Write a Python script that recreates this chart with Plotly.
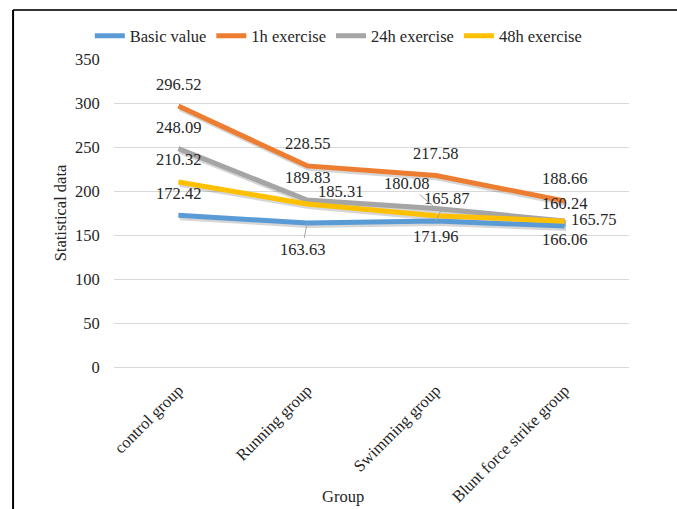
import plotly.graph_objects as go

categories = ["control group", "Running group", "Swimming group", "Blunt force strike group"]
series_names = ["Basic value", "1h exercise", "24h exercise", "48h exercise"]
basic_value = [172.42, 163.63, 165.87, 160.24]
h1_exercise = [296.52, 228.55, 217.58, 188.66]
h24_exercise = [248.09, 189.83, 180.08, 166.06]
h48_exercise = [210.32, 185.31, 171.96, 165.75]
y_ticks = [0, 50, 100, 150, 200, 250, 300, 350]

colors = ["#5B9BD5", "#ED7D31", "#A5A5A5", "#FFC000"]
all_values = [basic_value, h1_exercise, h24_exercise, h48_exercise]

# label placement styles (pixel offsets): ("shift", dx, dy) or ("arrow", ax, ay)
label_styles = [
    [("shift", 0, 22), ("arrow", -5, 26), ("arrow", 11, -23), ("shift", 0, 22)],
    [("shift", 0, 22), ("shift", 0, 22), ("shift", 0, 22), ("shift", 0, 22)],
    [("shift", 0, 21), ("shift", 0, 22), ("arrow", -29, -25), ("shift", 0, -19)],
    [("shift", 0, 22), ("shift", 33, 12), ("shift", 0, -21), ("shift", 29, 2)],
]

FONT = "Times New Roman, Liberation Serif, DejaVu Serif, serif"
FS = 16.5
TXT = "#262626"

Y_RANGE = [0, 350]
X_RANGE = [-0.5, 3.5]
# shadow axes: same scale shifted by a couple of pixels (plot height 308px, width 515px)
SH_DY = 2.0 * 350 / 308
SH_DX = 1.5 * 4 / 515

fig = go.Figure()
# invisible trace to anchor the main (visible) axes
fig.add_trace(go.Scatter(x=categories, y=basic_value, mode="lines", showlegend=False,
                         hoverinfo="skip", line=dict(color="rgba(0,0,0,0)", width=0)))
# soft drop shadows drawn on offset overlay axes
for name, vals in zip(series_names, all_values):
    fig.add_trace(go.Scatter(
        x=categories, y=vals, mode="lines", showlegend=False, hoverinfo="skip",
        line=dict(color="rgba(0,0,0,0.16)", width=6), xaxis="x2", yaxis="y2",
    ))
for name, vals, col in zip(series_names, all_values, colors):
    fig.add_trace(go.Scatter(
        x=categories, y=vals, name=name, mode="lines",
        line=dict(color=col, width=5), hoverinfo="x+y+name", xaxis="x3", yaxis="y3",
    ))

annotations = []
for vals, styles in zip(all_values, label_styles):
    for cat, v, st in zip(categories, vals, styles):
        if st[0] == "shift":
            annotations.append(dict(
                x=cat, y=v, xref="x", yref="y", text=f"{v:.2f}", showarrow=False,
                xshift=st[1], yshift=st[2], font=dict(family=FONT, size=FS, color=TXT)))
        else:
            annotations.append(dict(
                x=cat, y=v, xref="x", yref="y", text=f"{v:.2f}", showarrow=True,
                arrowhead=0, arrowwidth=1, arrowcolor="#A6A6A6", ax=st[1], ay=st[2],
                font=dict(family=FONT, size=FS, color=TXT)))

# x axis title placed like the reference
annotations.append(dict(x=0.4447, y=-0.422, xref="paper", yref="paper", text="Group",
                        showarrow=False, font=dict(family=FONT, size=FS, color=TXT),
                        xanchor="center", yanchor="middle"))

shapes = [
    dict(type="line", xref="paper", yref="paper", x0=-0.196, x1=1.1, y0=1.159, y1=1.159,
         line=dict(color="#333333", width=2)),
    dict(type="line", xref="paper", yref="paper", x0=-0.196, x1=-0.196, y0=1.159, y1=-0.47,
         line=dict(color="#000000", width=2)),
]

hidden_cat = dict(type="category", overlaying="x", visible=False,
                  categoryorder="array", categoryarray=categories)

fig.update_layout(
    width=677, height=509,
    margin=dict(l=114, r=48, t=59, b=142),
    paper_bgcolor="white", plot_bgcolor="white",
    font=dict(family=FONT, size=FS, color=TXT),
    showlegend=True,
    legend=dict(orientation="h", x=-0.047, xanchor="left", y=1.0747, yanchor="middle",
                font=dict(family=FONT, size=FS, color=TXT), bgcolor="rgba(0,0,0,0)"),
    xaxis=dict(type="category", range=X_RANGE, tickangle=-45, showgrid=False,
               showline=False, ticks="outside", ticklen=6, tickcolor="rgba(0,0,0,0)",
               automargin=False, categoryorder="array", categoryarray=categories,
               tickfont=dict(family=FONT, size=FS, color=TXT)),
    yaxis=dict(range=Y_RANGE, tickvals=y_ticks, showgrid=True, gridcolor="#D9D9D9",
               gridwidth=1, zeroline=True, zerolinecolor="#D9D9D9", zerolinewidth=1,
               showline=False, ticks="outside", ticklen=10, tickcolor="rgba(0,0,0,0)",
               automargin=False,
               tickfont=dict(family=FONT, size=FS, color=TXT),
               title=dict(text="Statistical data", standoff=4,
                          font=dict(family=FONT, size=FS, color=TXT))),
    xaxis2=dict(hidden_cat, range=[X_RANGE[0] - SH_DX, X_RANGE[1] - SH_DX]),
    yaxis2=dict(overlaying="y", range=[Y_RANGE[0] + SH_DY, Y_RANGE[1] + SH_DY], visible=False),
    xaxis3=dict(hidden_cat, range=X_RANGE),
    yaxis3=dict(overlaying="y", range=Y_RANGE, visible=False),
    annotations=annotations,
    shapes=shapes,
)

fig.write_html("out.html")
